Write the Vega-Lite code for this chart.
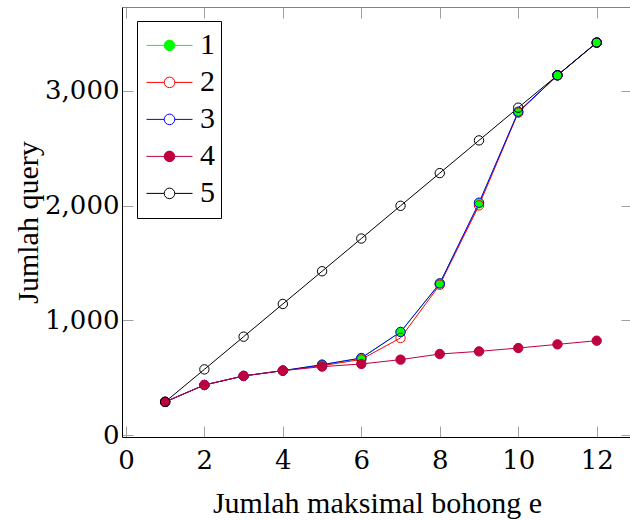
{
  "$schema": "https://vega.github.io/schema/vega-lite/v6.json",
  "width": 510,
  "height": 430,
  "autosize": "none",
  "padding": {"left": 122, "top": 7, "right": 0, "bottom": 84},
  "background": "white",
  "config": {
    "view": {"stroke": null},
    "font": "Liberation Serif",
    "axis": {
      "grid": false,
      "domainColor": "black",
      "domainWidth": 1,
      "tickColor": "#a0a0a0",
      "tickSize": -11,
      "tickWidth": 1,
      "labelFont": "DejaVu Serif",
      "labelFontSize": 26,
      "labelColor": "black",
      "titleFont": "Liberation Serif",
      "titleFontSize": 30,
      "titleFontWeight": "normal",
      "titleColor": "black"
    },
    "legend": {
      "orient": "none",
      "legendX": 15,
      "legendY": 14,
      "title": null,
      "strokeColor": "black",
      "fillColor": "white",
      "padding": 6,
      "symbolType": "M-1,0H-0.23M0.23,0H1M0.23,0A0.23,0.23 0 1 1 -0.23,0A0.23,0.23 0 1 1 0.23,0",
      "symbolSize": 2116,
      "symbolStrokeWidth": 1,
      "symbolOffset": 3,
      "clipHeight": 36.8,
      "rowPadding": 0,
      "labelOffset": 7,
      "labelExpr": "datum.label + '\u00a0\u00a0'",
      "labelFont": "Liberation Serif",
      "labelFontSize": 30,
      "labelColor": "black"
    }
  },
  "data": {
    "values": [
      {"s": "1", "x": 1, "y": 290}, {"s": "1", "x": 2, "y": 437}, {"s": "1", "x": 3, "y": 516}, {"s": "1", "x": 4, "y": 562},
      {"s": "1", "x": 5, "y": 614}, {"s": "1", "x": 6, "y": 672}, {"s": "1", "x": 7, "y": 899}, {"s": "1", "x": 8, "y": 1322},
      {"s": "1", "x": 9, "y": 2019}, {"s": "1", "x": 10, "y": 2812}, {"s": "1", "x": 11, "y": 3135}, {"s": "1", "x": 12, "y": 3420},
      {"s": "2", "x": 1, "y": 290}, {"s": "2", "x": 2, "y": 437}, {"s": "2", "x": 3, "y": 516}, {"s": "2", "x": 4, "y": 562},
      {"s": "2", "x": 5, "y": 605}, {"s": "2", "x": 6, "y": 660}, {"s": "2", "x": 7, "y": 847}, {"s": "2", "x": 8, "y": 1310},
      {"s": "2", "x": 9, "y": 2002}, {"s": "2", "x": 10, "y": 2810}, {"s": "2", "x": 11, "y": 3135}, {"s": "2", "x": 12, "y": 3420},
      {"s": "3", "x": 1, "y": 290}, {"s": "3", "x": 2, "y": 437}, {"s": "3", "x": 3, "y": 516}, {"s": "3", "x": 4, "y": 562},
      {"s": "3", "x": 5, "y": 614}, {"s": "3", "x": 6, "y": 672}, {"s": "3", "x": 7, "y": 899}, {"s": "3", "x": 8, "y": 1322},
      {"s": "3", "x": 9, "y": 2025}, {"s": "3", "x": 10, "y": 2818}, {"s": "3", "x": 11, "y": 3135}, {"s": "3", "x": 12, "y": 3420},
      {"s": "4", "x": 1, "y": 290}, {"s": "4", "x": 2, "y": 437}, {"s": "4", "x": 3, "y": 516}, {"s": "4", "x": 4, "y": 562},
      {"s": "4", "x": 5, "y": 597}, {"s": "4", "x": 6, "y": 620}, {"s": "4", "x": 7, "y": 658}, {"s": "4", "x": 8, "y": 707},
      {"s": "4", "x": 9, "y": 730}, {"s": "4", "x": 10, "y": 759}, {"s": "4", "x": 11, "y": 791}, {"s": "4", "x": 12, "y": 823},
      {"s": "5", "x": 1, "y": 290}, {"s": "5", "x": 2, "y": 573}, {"s": "5", "x": 3, "y": 858}, {"s": "5", "x": 4, "y": 1143},
      {"s": "5", "x": 5, "y": 1428}, {"s": "5", "x": 6, "y": 1713}, {"s": "5", "x": 7, "y": 1998}, {"s": "5", "x": 8, "y": 2283},
      {"s": "5", "x": 9, "y": 2568}, {"s": "5", "x": 10, "y": 2853}, {"s": "5", "x": 11, "y": 3135}, {"s": "5", "x": 12, "y": 3420}
    ]
  },
  "layer": [
    {
      "mark": {"type": "line", "strokeWidth": 1, "clip": true},
      "encoding": {
        "x": {"field": "x", "type": "quantitative", "scale": {"domain": [-0.1, 12.9], "nice": false, "zero": false},
              "axis": {"values": [0, 2, 4, 6, 8, 10, 12], "title": "Jumlah maksimal bohong e", "labelPadding": 21, "titleY": 75, "titleBaseline": "alphabetic"}},
        "y": {"field": "y", "type": "quantitative", "scale": {"domain": [-16, 3730], "nice": false, "zero": false},
              "axis": {"values": [0, 1000, 2000, 3000], "format": ",.0f", "title": "Jumlah query", "labelPadding": 14, "titleX": -94, "titleBaseline": "middle"}},
        "stroke": {"field": "s", "type": "nominal", "scale": {"domain": ["1", "2", "3", "4", "5"], "range": ["#00ff00", "#ff0000", "#0000ff", "#bf0040", "#000000"]}}
      }
    },
    {
      "mark": {"type": "point", "shape": "circle", "size": 88, "opacity": 1, "strokeWidth": 1, "clip": true},
      "encoding": {
        "x": {"field": "x", "type": "quantitative", "scale": {"domain": [-0.1, 12.9], "nice": false, "zero": false},
              "axis": {"orient": "top", "values": [0, 2, 4, 6, 8, 10, 12], "labels": false, "title": null, "domainColor": "#808080"}},
        "y": {"field": "y", "type": "quantitative", "scale": {"domain": [-16, 3730], "nice": false, "zero": false},
              "axis": {"orient": "right", "values": [0, 1000, 2000, 3000], "labels": false, "title": null, "domainColor": "#808080"}},
        "stroke": {"field": "s", "type": "nominal", "scale": {"domain": ["1", "2", "3", "4", "5"], "range": ["#00ff00", "#ff0000", "#0000ff", "#bf0040", "#000000"]}},
        "fill": {"field": "s", "type": "nominal", "scale": {"domain": ["1", "2", "3", "4", "5"], "range": ["#00ff00", "transparent", "transparent", "#bf0040", "transparent"]}}
      }
    }
  ],
  "resolve": {"axis": {"x": "independent", "y": "independent"}}
}
